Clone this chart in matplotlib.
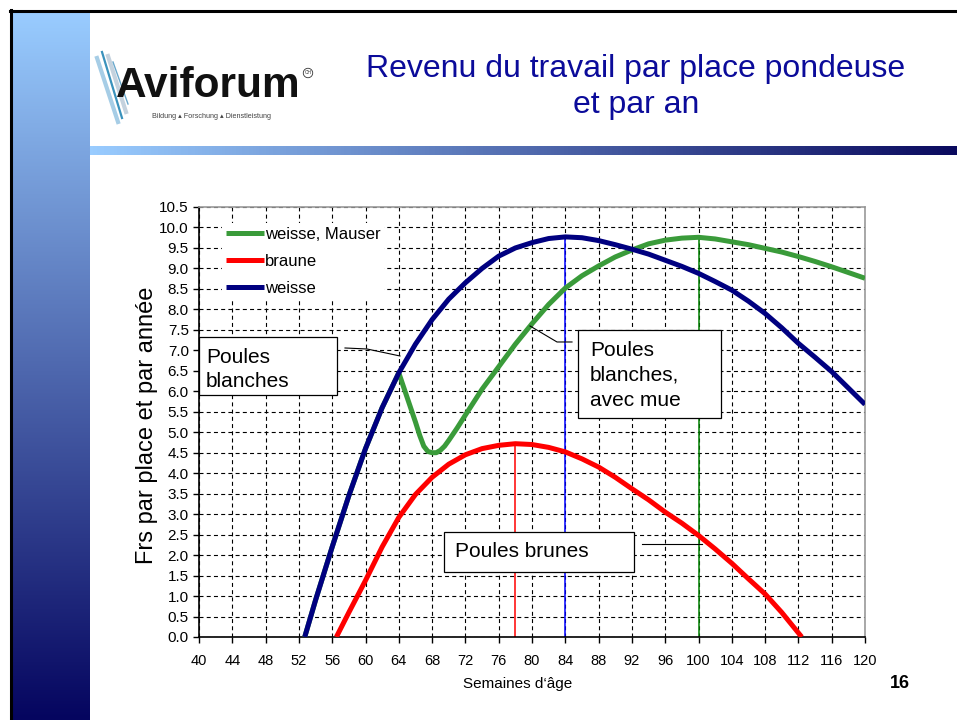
import matplotlib.pyplot as plt
import numpy as np
from matplotlib.lines import Line2D
from matplotlib.patches import Rectangle

plt.rcParams['font.family'] = ['Liberation Sans', 'DejaVu Sans']

# weisse (blue)
weeks_white = [52.7, 54, 56, 58, 60, 62, 64, 66, 68, 70, 72, 74, 76, 78, 80, 82, 84,
               86, 88, 90, 92, 94, 96, 98, 100, 102, 104, 106, 108, 110, 112, 114,
               116, 118, 120]
white = [0.0, 0.9, 2.2, 3.45, 4.6, 5.6, 6.45, 7.15, 7.75, 8.25, 8.65, 9.0, 9.3, 9.5,
         9.63, 9.73, 9.77, 9.75, 9.68, 9.58, 9.47, 9.35, 9.2, 9.05, 8.88, 8.68, 8.47,
         8.2, 7.9, 7.55, 7.17, 6.83, 6.48, 6.08, 5.68]

# weisse, Mauser (green)
weeks_moult = [52.7, 54, 56, 58, 60, 62, 64, 64.5, 65, 65.5, 66, 66.5, 67, 67.5, 68,
               68.5, 69, 69.5, 70, 71, 72, 74, 76, 78, 80, 82, 84, 86, 88, 90, 92,
               94, 96, 98, 100, 102, 104, 106, 108, 110, 112, 114, 116, 118, 120]
moult = [0.0, 0.9, 2.2, 3.45, 4.6, 5.6, 6.45, 6.15, 5.85, 5.55, 5.25, 4.93, 4.66,
         4.53, 4.5, 4.5, 4.56, 4.66, 4.8, 5.1, 5.42, 6.05, 6.6, 7.15, 7.65, 8.12,
         8.52, 8.82, 9.06, 9.28, 9.45, 9.6, 9.69, 9.74, 9.76, 9.72, 9.65, 9.58,
         9.49, 9.4, 9.29, 9.17, 9.04, 8.9, 8.76]

# braune (red)
weeks_brown = [56.5, 58, 60, 62, 64, 66, 68, 70, 72, 74, 76, 78, 80, 82, 84, 86, 88,
               90, 92, 94, 96, 98, 100, 102, 104, 106, 108, 110, 112.4]
brown = [0.0, 0.6, 1.38, 2.2, 2.92, 3.48, 3.9, 4.22, 4.45, 4.6, 4.68, 4.72, 4.7, 4.63,
         4.52, 4.35, 4.15, 3.9, 3.62, 3.35, 3.05, 2.78, 2.48, 2.15, 1.8, 1.42, 1.05,
         0.6, 0.0]

series = [
    ("weisse, Mauser", weeks_moult, moult, "#3a9b3a", "#008000"),
    ("braune", weeks_brown, brown, "#ff0000", "#ff0000"),
    ("weisse", weeks_white, white, "#000080", "#0000ff"),
]

W, H = 957, 720


def fx(px):
    return px / W


def fy(py):
    return 1 - py / H


fig = plt.figure(figsize=(9.57, 7.2), dpi=100)
fig.patch.set_facecolor("white")

# slide decoration: left gradient bar
top_c = np.array([153, 204, 255]) / 255
bot_c = np.array([5, 5, 95]) / 255
bar = fig.add_axes([fx(12), 0, fx(90) - fx(12), fy(12)])
grad = np.linspace(0, 1, 256).reshape(-1, 1)
img = top_c + grad[..., None] * (bot_c - top_c)
bar.imshow(img, aspect="auto", extent=(0, 1, 0, 1))
bar.axis("off")

# header gradient bar
hbar = fig.add_axes([fx(90), fy(155), 1 - fx(90), fy(146) - fy(155)])
grad_h = np.linspace(0, 1, 256).reshape(1, -1)
right_c = np.array([10, 10, 94]) / 255
img_h = top_c + grad_h[..., None] * (right_c - top_c)
hbar.imshow(img_h, aspect="auto", extent=(0, 1, 0, 1))
hbar.axis("off")

# black border lines
fig.add_artist(Line2D([fx(10), 1], [fy(10.5), fy(10.5)], color="black", lw=2.2))
fig.add_artist(Line2D([fx(10.5), fx(10.5)], [fy(10), 0], color="black", lw=2.2))

# logo
stripes = [
    ((97, 58), (118, 122), "#a6cde6", 3.0),
    ((102, 52), (122, 118), "#3a92bc", 1.6),
    ((108, 56), (126, 112), "#c4d2de", 3.0),
    ((113, 62), (128, 104), "#6aa8cc", 1.0),
]
for (x0, y0), (x1, y1), c, lw in stripes:
    fig.add_artist(Line2D([fx(x0), fx(x1)], [fy(y0), fy(y1)], color=c, lw=lw))
fig.text(fx(116), fy(97), "Aviforum", fontsize=30.5, fontweight="bold",
         color="#111111", ha="left", va="baseline")
fig.text(fx(308), fy(73), "CH", fontsize=3.5, color="#333333", ha="center",
         va="center", bbox=dict(boxstyle="circle,pad=0.25", fc="white",
                                ec="#333333", lw=0.6))
fig.text(fx(152), fy(116), "Bildung \u25b4 Forschung \u25b4 Dienstleistung",
         fontsize=5.2, color="#444444", ha="left", va="center")

# title
fig.text(fx(636), fy(87), "Revenu du travail par place pondeuse\net par an",
         fontsize=23, color="#0b0b9a", ha="center", va="center",
         linespacing=1.28)

# chart
ax = fig.add_axes([fx(199), fy(637), fx(865) - fx(199), fy(207) - fy(637)])
ax.set_xlim(40, 120)
ax.set_ylim(0, 10.5)
ax.set_xticks(np.arange(40, 121, 4))
ax.set_yticks(np.arange(0, 10.51, 0.5))
ax.set_yticklabels([f"{v:.1f}" for v in np.arange(0, 10.51, 0.5)])
ax.tick_params(axis="x", direction="out", length=4, width=1, labelsize=10.5,
               pad=8.5, colors="black")
ax.tick_params(axis="y", direction="out", length=4.3, width=1, labelsize=11,
               pad=3, colors="black")
ax.grid(True, color="black", lw=0.8, linestyle=(0, (3.6, 2.9)), zorder=0)
ax.set_axisbelow(True)
for side in ("left", "bottom"):
    ax.spines[side].set_color("black")
    ax.spines[side].set_linewidth(1.2)
for side in ("top", "right"):
    ax.spines[side].set_color("#9a9a9a")
    ax.spines[side].set_linewidth(1.2)

handles = []
for label, xs, ys, color, vcolor in series:
    (h,) = ax.plot(xs, ys, color=color, lw=3.6, solid_capstyle="butt",
                   solid_joinstyle="round", label=label, zorder=3)
    handles.append(h)
    i = int(np.argmax(ys))
    ax.vlines(xs[i], 0, ys[i], color=vcolor, lw=1.1, zorder=2)

leg = ax.legend(handles=handles, loc="upper left", bbox_to_anchor=(0.035, 0.962),
                fontsize=12, handlelength=2.3, handletextpad=0.05,
                labelspacing=0.72, borderpad=0.2, borderaxespad=0,
                frameon=True, fancybox=False)
leg.get_frame().set_facecolor("white")
leg.get_frame().set_edgecolor("none")
leg.get_frame().set_alpha(1)
leg.set_zorder(5)


def data_xy(px, py):
    return 40 + (px - 199) / 8.325, (637 - py) / 40.95


def note_box(x0, y0, x1, y1, text, tx, ty):
    ax0, ay0 = data_xy(x0, y1)
    ax1, ay1 = data_xy(x1, y0)
    ax.add_patch(Rectangle((ax0, ay0), ax1 - ax0, ay1 - ay0, fc="white",
                           ec="black", lw=0.9, zorder=6, clip_on=False))
    px, py = data_xy(tx, ty)
    ax.text(px, py, text, fontsize=15, ha="left", va="center", zorder=7,
            linespacing=1.38)


def leader(points):
    pts = [data_xy(px, py) for px, py in points]
    ax.plot([p[0] for p in pts], [p[1] for p in pts], color="black", lw=0.8,
            zorder=6, clip_on=False)


note_box(199, 337, 337, 395, "Poules\nblanches", 206, 369.5)
leader([(345, 348), (367, 349), (400, 356)])
note_box(578, 330, 721, 418, "Poules\nblanches,\navec mue", 590, 375.5)
leader([(530, 326), (557, 342), (572, 342)])
note_box(444, 532, 634, 572, "Poules brunes", 455, 552)
leader([(642, 544), (702, 544)])

fig.text(fx(147), fy(425), "Frs par place et par année", rotation=90,
         fontsize=17, ha="center", va="center")
fig.text(fx(518), fy(684), "Semaines d\u2018âge", fontsize=11, ha="center",
         va="center")
fig.text(fx(900), fy(683), "16", fontsize=13, fontweight="bold", ha="center",
         va="center")

fig.savefig("out.png", dpi=100)
